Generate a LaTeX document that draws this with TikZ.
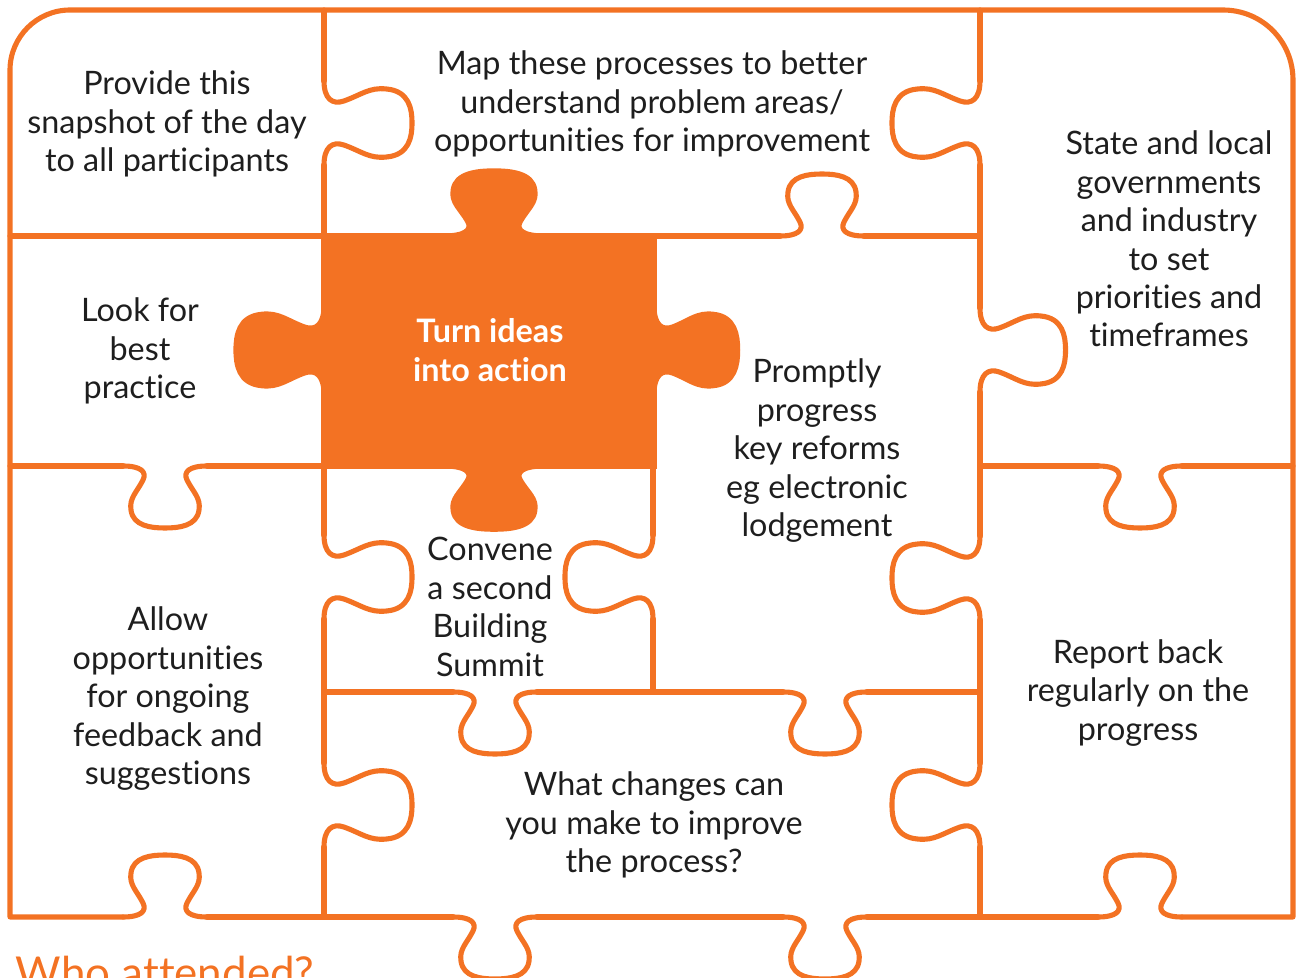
\documentclass[tikz,border=0pt]{standalone}
\usepackage{fontspec}
\setmainfont{Lato}[Ligatures=NoCommon]
\usetikzlibrary{positioning}
\definecolor{jorange}{RGB}{243,114,35}
\definecolor{jtext}{RGB}{30,30,30}

\begin{document}
\begin{tikzpicture}[x=0.1mm, y=-0.1mm,
    edge/.style={draw=jorange, line width=1.45pt, line cap=round, line join=round},
    blob/.style={fill=jorange, draw=jorange, line width=1.45pt},
    txt/.style={align=center, text=jtext, inner sep=0pt, font=\fontsize{9.2}{10.95}\selectfont},
    pics/jtab/.style={code={
        \path[#1] (-42,0) .. controls (-24,0) and (-18,6) .. (-22,14)
            .. controls (-28,26) and (-36,32) .. (-34,44)
            .. controls (-32,60) and (-14,62) .. (0,62)
            .. controls (14,62) and (32,60) .. (34,44)
            .. controls (36,32) and (28,26) .. (22,14)
            .. controls (18,6) and (24,0) .. (42,0);
        \coordinate (-a) at (-42,0);
        \coordinate (-b) at (42,0);
    }}]
    \useasboundingbox (0,0) rectangle (1297,978);

    % Centre piece
    \fill[blob] (324,236) rectangle (654,466);
    \pic[rotate=180, xscale=1.2, yscale=1.05] (oTop) at (494,236) {jtab=blob};
    \pic[xscale=1.2, yscale=1.02] (oBot) at (494,466) {jtab=blob};
    \pic[rotate=-90, xscale=1.05, yscale=1.42] (oLeft) at (324,350) {jtab=blob};
    \pic[rotate=90, xscale=1.05, yscale=1.35] (oRight) at (654,350) {jtab=blob};

    % Tabs (outlines)
    \pic[rotate=90, yscale=1.42] (tP) at (324,123) {jtab=edge};
    \pic[rotate=-90, yscale=1.42] (tS1) at (980,123) {jtab=edge};
    \pic[rotate=180] (tM) at (822,236) {jtab=edge};
    \pic[rotate=90, yscale=1.38] (tS2) at (980,350) {jtab=edge};
    \pic (tS3) at (1140,466) {jtab=edge};
    \pic (tL) at (165,466) {jtab=edge};
    \pic[rotate=180] (tA) at (165,917) {jtab=edge};
    \pic[rotate=90, yscale=1.42] (tC1) at (324,577) {jtab=edge};
    \pic[rotate=-90, yscale=1.42] (tC2) at (653,577) {jtab=edge};
    \pic (tC3) at (495,692) {jtab=edge};
    \pic (tP2) at (825,692) {jtab=edge};
    \pic[rotate=-90, yscale=1.42] (tP3) at (980,578) {jtab=edge};
    \pic[rotate=90, yscale=1.42] (tW1) at (324,805) {jtab=edge};
    \pic[rotate=-90, yscale=1.42] (tW2) at (980,805) {jtab=edge};
    \pic (tW3) at (495,917) {jtab=edge};
    \pic (tW4) at (825,917) {jtab=edge};
    \pic[rotate=180] (tR) at (1140,917) {jtab=edge};

    % Outer frame
    \draw[edge] (tA-b) -- (10,917) -- (10,70) .. controls (10,37) and (37,10) .. (70,10)
        -- (1223,10) .. controls (1262,10) and (1293,41) .. (1293,80) -- (1293,917) -- (tR-a);
    \draw[edge] (tA-a) -- (tW3-a);
    \draw[edge] (tW3-b) -- (tW4-a);
    \draw[edge] (tW4-b) -- (tR-b);

    % Vertical joins
    \draw[edge] (324,10) -- (tP-b);
    \draw[edge] (tP-a) -- (324,236);
    \draw[edge] (324,466) -- (tC1-b);
    \draw[edge] (tC1-a) -- (tW1-b);
    \draw[edge] (tW1-a) -- (324,917);
    \draw[edge] (980,10) -- (tS1-a);
    \draw[edge] (tS1-b) -- (tS2-b);
    \draw[edge] (tS2-a) -- (tP3-a);
    \draw[edge] (tP3-b) -- (tW2-a);
    \draw[edge] (tW2-b) -- (980,917);
    \draw[edge] (653,466) -- (tC2-a);
    \draw[edge] (tC2-b) -- (653,692);

    % Horizontal joins
    \draw[edge] (10,236) -- (324,236);
    \draw[edge] (654,236) -- (tM-b);
    \draw[edge] (tM-a) -- (980,236);
    \draw[edge] (10,466) -- (tL-a);
    \draw[edge] (tL-b) -- (324,466);
    \draw[edge] (980,466) -- (tS3-a);
    \draw[edge] (tS3-b) -- (1293,466);
    \draw[edge] (324,692) -- (tC3-a);
    \draw[edge] (tC3-b) -- (tP2-a);
    \draw[edge] (tP2-b) -- (980,692);

    % Texts
    \node[txt] (provide) at (167,124) {Provide this\\snapshot of the day\\to all participants};
    \node[txt] (mapping) at (652,104) {Map these processes to better\\understand problem areas/\\opportunities for improvement};
    \node[txt] (state) at (1169,239) {State and local\\governments\\and industry\\to set\\priorities and\\timeframes};
    \node[txt] (look) at (140,351) {Look for\\best\\practice};
    \node[txt, text=white, font=\bfseries\fontsize{9.2}{10.95}\selectfont] (action) at (490,350) {Turn ideas\\into action};
    \node[txt] (prompt) at (817,451) {Promptly\\progress\\key reforms\\eg electronic\\lodgement};
    \node[txt] (convene) at (490,607) {Convene\\a second\\Building\\Summit};
    \node[txt] (allow) at (168,699) {Allow\\opportunities\\for ongoing\\feedback and\\suggestions};
    \node[txt] (report) at (1138,693) {Report back\\regularly on the\\progress};
    \node[txt] (what) at (654,825) {What changes can\\you make to improve\\the process?};
    \node[anchor=base west, inner sep=0pt, text=jorange, font=\fontsize{12.5}{12.5}\selectfont] (who) at (15,988) {Who attended?};
\end{tikzpicture}
\end{document}
